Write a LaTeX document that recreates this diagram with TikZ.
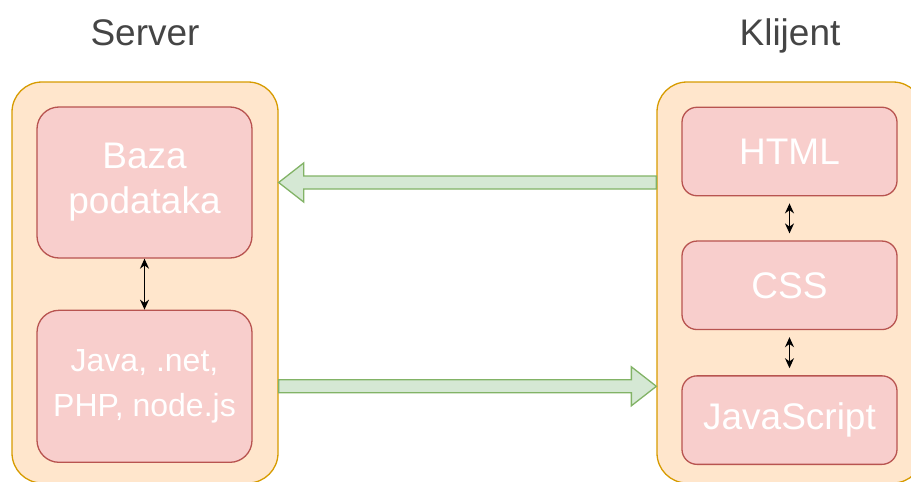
\documentclass[tikz,border=0pt]{standalone}
\usepackage{fontspec}
\setmainfont{Liberation Sans}
\usetikzlibrary{positioning}
\usetikzlibrary{calc}
\usetikzlibrary{arrows.meta}
\definecolor{OrangeFill}{HTML}{FFE6CC}
\definecolor{OrangeLine}{HTML}{D79B00}
\definecolor{RedFill}{HTML}{F8CECC}
\definecolor{RedLine}{HTML}{B85450}
\definecolor{GreenFill}{HTML}{D5E8D4}
\definecolor{GreenLine}{HTML}{82B366}
\definecolor{TitleGray}{HTML}{454545}

\begin{document}
\begin{tikzpicture}[x=1pt, y=-1pt, >={Stealth[length=10pt,width=9pt]},
  side/.style={draw=OrangeLine, fill=OrangeFill, line width=1.3pt, rounded corners=30pt,
    minimum width=266pt, minimum height=401pt},
  part/.style={draw=RedLine, fill=RedFill, line width=1.3pt, rounded corners=15pt,
    minimum width=215pt, minimum height=88.5pt, text=white, align=center,
    font=\fontsize{37}{45}\selectfont},
  title/.style={anchor=base, text=TitleGray, font=\fontsize{37}{45}\selectfont},
  fat/.style={draw=GreenLine, fill=GreenFill, line width=1.3pt, line join=miter}]
\useasboundingbox (0,0) rectangle (911,482);

\node[side] (srv) at (145,282.5) {};
\node[side] (cli) at (790,282.5) {};
\node[title] at (145,45) (srvname) {Server};
\node[title] at (790,45) (cliname) {Klijent};

\node[part, minimum height=151pt, rounded corners=22pt] at (144.5,182.5) (baza) {Baza\\podataka};
\node[part, minimum height=152pt, rounded corners=22pt, below=51pt of baza,
  font=\fontsize{32}{45}\selectfont] (java) {Java, .net,\\PHP, node.js};

\node[part] at (789.5,151.5) (html) {HTML};
\node[part, below=44pt of html] (css) {CSS};
\node[part, below=45pt of css] (js) {JavaScript};

\draw[line width=1.3pt, <->] (baza) -- (java);
\draw[line width=1.3pt, <->, shorten <=7pt, shorten >=7pt] (html) -- (css);
\draw[line width=1.3pt, <->, shorten <=7pt, shorten >=7pt] (css) -- (js);

% block arrows between the two sides
\foreach \from/\to/\row in {cli.west/srv.east/baza, srv.east/cli.west/java} {
  \coordinate (s) at (\from |- \row);
  \coordinate (e) at (\to |- \row);
  \coordinate (h) at ($(e)!25pt!(s)$);
  \draw[fat] ($(s)!6.5pt!90:(e)$) -- ($(h)!6.5pt!-90:(s)$) -- ($(h)!19.5pt!-90:(s)$)
    -- (e) -- ($(h)!19.5pt!90:(s)$) -- ($(h)!6.5pt!90:(s)$) -- ($(s)!6.5pt!-90:(e)$) -- cycle;
}

\end{tikzpicture}
\end{document}
